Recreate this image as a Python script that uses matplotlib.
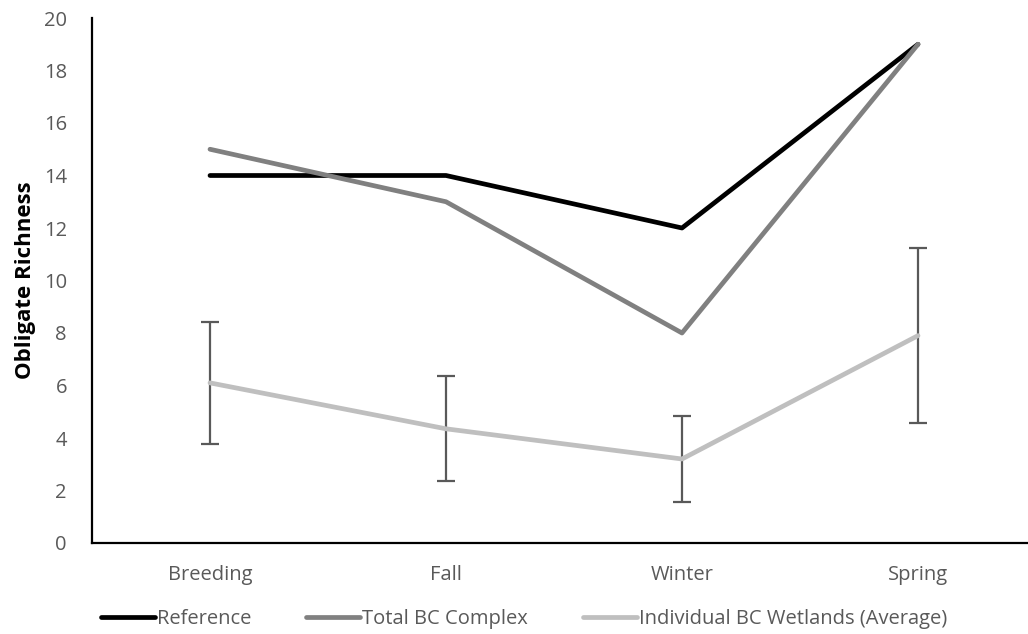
import matplotlib
matplotlib.use("Agg")
import matplotlib.pyplot as plt

seasons = ["Breeding", "Fall", "Winter", "Spring"]
reference = [14, 14, 12, 19]
total_bc = [15, 13, 8, 19]
individual_bc = [6.1, 4.35, 3.2, 7.9]
individual_err = [2.33, 2.0, 1.62, 3.33]

plt.rcParams["font.family"] = ["Open Sans", "DejaVu Sans"]

fig = plt.figure(figsize=(10.28, 6.34), dpi=100)
# axis runs a little past the right edge, so Spring sits at 918 px
ax = fig.add_axes([92 / 1028, 91 / 634, 944 / 1028, 525 / 634])

x = range(len(seasons))
ax.plot(x, reference, color="black", lw=3.4, label="Reference", solid_capstyle="round")
ax.plot(x, total_bc, color="#808080", lw=3.4, label="Total BC Complex", solid_capstyle="round")
eb = ax.errorbar(x, individual_bc, yerr=individual_err, color="#bfbfbf", lw=3.4,
                 ecolor="#595959", elinewidth=1.6, capsize=6.5, capthick=1.6,
                 label="Individual BC Wetlands (Average)")
eb[0].set_solid_capstyle("round")

ax.set_xlim(-0.5, 3.5)
ax.set_ylim(0, 20)
ax.set_yticks(range(0, 21, 2))
ax.set_xticks(list(x))
ax.set_xticklabels(seasons)
ax.tick_params(length=0, labelsize=14.5, colors="#595959")
ax.tick_params(axis="y", pad=18)
ax.tick_params(axis="x", pad=16)
for side in ["top", "right"]:
    ax.spines[side].set_visible(False)
for side in ["left", "bottom"]:
    ax.spines[side].set_linewidth(1.6)
    ax.spines[side].set_color("black")

ax.set_ylabel("Obligate Richness", fontsize=16, fontweight="bold", labelpad=6)

handles = [ax.lines[0], ax.lines[1], eb[0]]
labels = ["Reference", "Total BC Complex", "Individual BC Wetlands (Average)"]
fig.legend(handles, labels, loc="center", bbox_to_anchor=(524 / 1028, 1 - 619 / 634),
           ncol=3, frameon=False, fontsize=14.5, labelcolor="#595959",
           handlelength=2.7, handletextpad=0.1, columnspacing=2.7,
           borderpad=0, borderaxespad=0)

fig.savefig("out.png", dpi=100)
